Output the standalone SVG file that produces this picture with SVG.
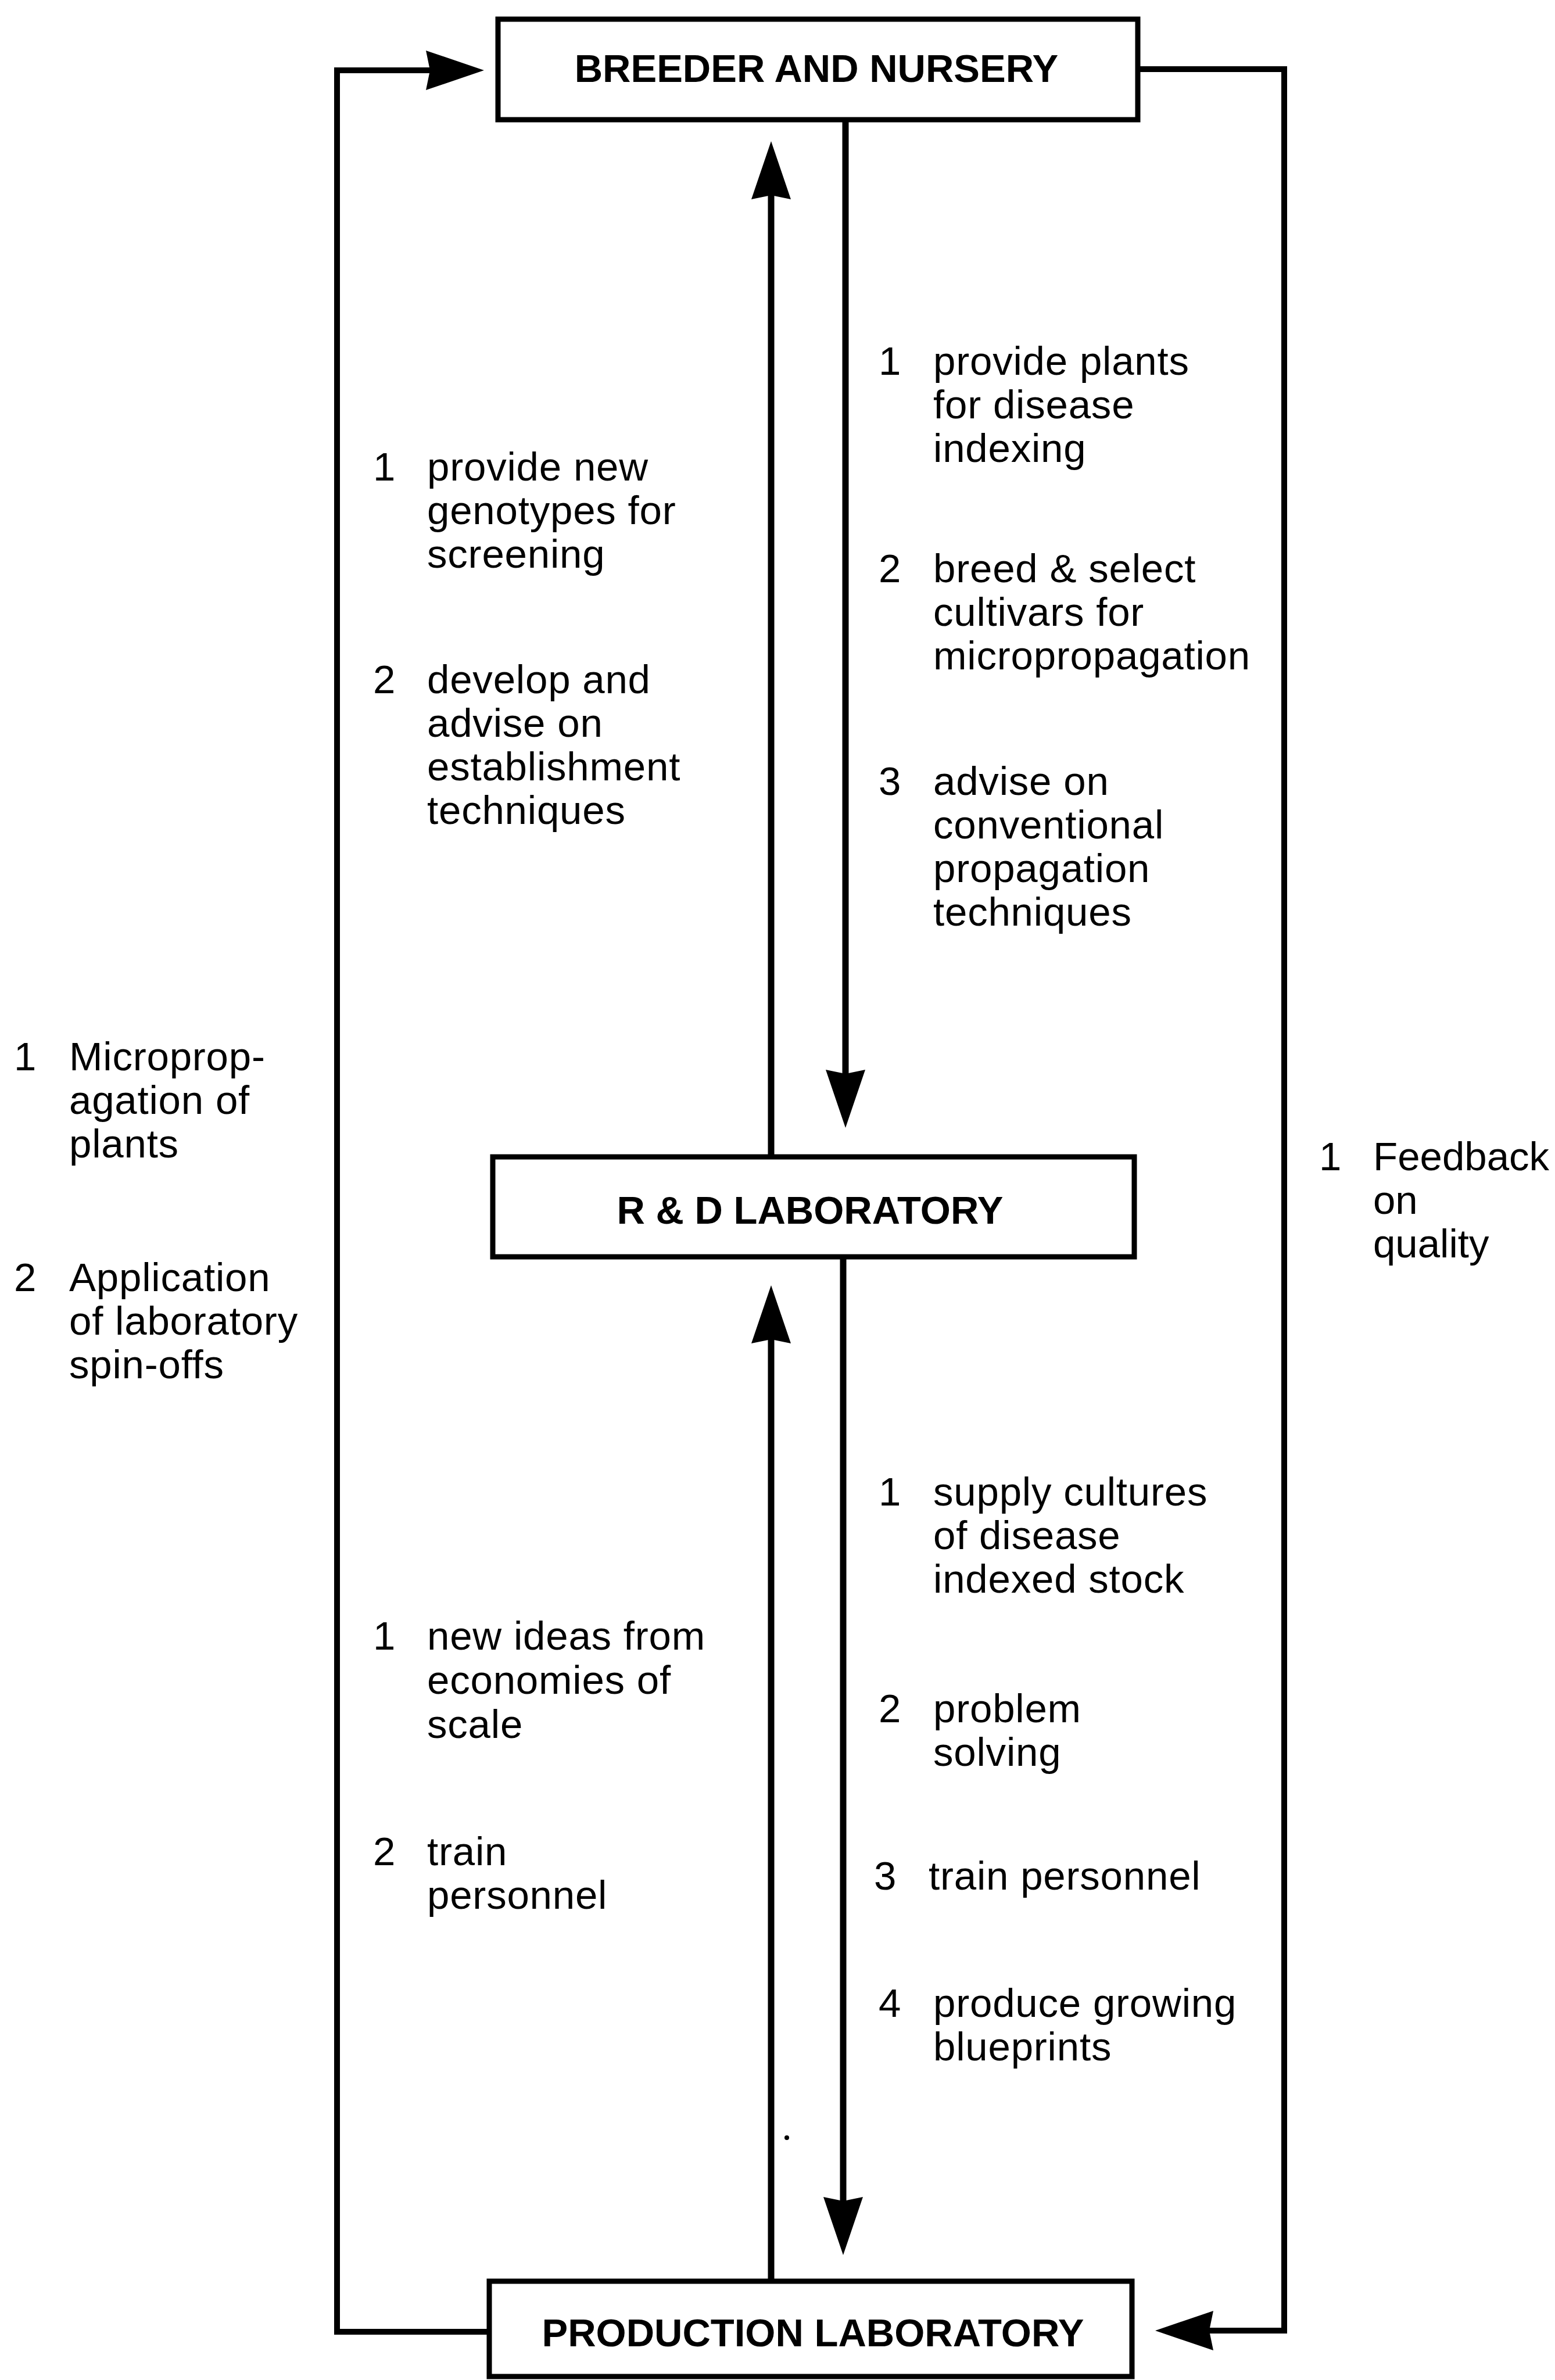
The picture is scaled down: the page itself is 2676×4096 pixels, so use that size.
<svg xmlns="http://www.w3.org/2000/svg" width="2676" height="4096" viewBox="0 0 2676 4096">
<style>
.box{fill:#fff;stroke:#000;stroke-width:9}
.title{font-family:"Liberation Sans",Arial,sans-serif;font-weight:bold;font-size:67px;fill:#000;text-anchor:middle}
.t{font-family:"Liberation Sans",Arial,sans-serif;font-size:69px;fill:#000;letter-spacing:0.8px}
#labels-far-right .t{letter-spacing:0}
.ln{fill:none;stroke:#000;stroke-width:11;stroke-linejoin:miter}
.loop{fill:none;stroke:#000;stroke-width:10;stroke-linejoin:miter}
</style>
<defs>
<marker id="ah" markerUnits="userSpaceOnUse" viewBox="0 0 100 70" markerWidth="100" markerHeight="70" refX="7" refY="35" orient="auto" overflow="visible">
<path d="M0,1 L100,35 L0,69 L7,35 Z" fill="#000"/>
</marker>
</defs>
<rect width="2676" height="4096" fill="#fff"/>
<g id="connectors">
<line class="ln" x1="1327" y1="1991" x2="1327" y2="336" marker-end="url(#ah)"/>
<line class="ln" x1="1455" y1="206" x2="1455" y2="1848" marker-end="url(#ah)"/>
<line class="ln" x1="1327" y1="3926" x2="1327" y2="2305" marker-end="url(#ah)"/>
<line class="ln" x1="1451" y1="2163" x2="1451" y2="3788" marker-end="url(#ah)"/>
<path class="loop" d="M842,4013 H580 V121 H740" marker-end="url(#ah)"/>
<path class="loop" d="M1958,119 H2210 V4011 H2081" marker-end="url(#ah)"/>
<circle cx="1354" cy="3679" r="4" fill="#000"/>
</g>
<g id="breeder">
<rect class="box" x="857" y="33" width="1101" height="173"/>
<text class="title" x="1405" y="141">BREEDER AND NURSERY</text>
</g>
<g id="rd">
<rect class="box" x="848" y="1991" width="1104" height="172"/>
<text class="title" x="1394" y="2106">R &amp; D LABORATORY</text>
</g>
<g id="production">
<rect class="box" x="842" y="3926" width="1106" height="164"/>
<text class="title" x="1399" y="4038">PRODUCTION LABORATORY</text>
</g>
<g id="labels-top-left">
<text class="t" x="642" y="827">1</text>
<text class="t" x="735" y="827">provide new</text>
<text class="t" x="735" y="902">genotypes for</text>
<text class="t" x="735" y="977">screening</text>
<text class="t" x="642" y="1193">2</text>
<text class="t" x="735" y="1193">develop and</text>
<text class="t" x="735" y="1268">advise on</text>
<text class="t" x="735" y="1343">establishment</text>
<text class="t" x="735" y="1418">techniques</text>
</g>
<g id="labels-top-right">
<text class="t" x="1512" y="645">1</text>
<text class="t" x="1606" y="645">provide plants</text>
<text class="t" x="1606" y="720">for disease</text>
<text class="t" x="1606" y="795">indexing</text>
<text class="t" x="1512" y="1002">2</text>
<text class="t" x="1606" y="1002">breed &amp; select</text>
<text class="t" x="1606" y="1077">cultivars for</text>
<text class="t" x="1606" y="1152">micropropagation</text>
<text class="t" x="1512" y="1368">3</text>
<text class="t" x="1606" y="1368">advise on</text>
<text class="t" x="1606" y="1443">conventional</text>
<text class="t" x="1606" y="1518">propagation</text>
<text class="t" x="1606" y="1593">techniques</text>
</g>
<g id="labels-far-left">
<text class="t" x="24" y="1842">1</text>
<text class="t" x="119" y="1842">Microprop-</text>
<text class="t" x="119" y="1917">agation of</text>
<text class="t" x="119" y="1992">plants</text>
<text class="t" x="24" y="2222">2</text>
<text class="t" x="119" y="2222">Application</text>
<text class="t" x="119" y="2297">of laboratory</text>
<text class="t" x="119" y="2372">spin-offs</text>
</g>
<g id="labels-far-right">
<text class="t" x="2270" y="2014">1</text>
<text class="t" x="2363" y="2014">Feedback</text>
<text class="t" x="2363" y="2089">on</text>
<text class="t" x="2363" y="2164">quality</text>
</g>
<g id="labels-bottom-left">
<text class="t" x="642" y="2839">1</text>
<text class="t" x="735" y="2839">new ideas from</text>
<text class="t" x="735" y="2915">economies of</text>
<text class="t" x="735" y="2991">scale</text>
<text class="t" x="642" y="3210">2</text>
<text class="t" x="735" y="3210">train</text>
<text class="t" x="735" y="3285">personnel</text>
</g>
<g id="labels-bottom-right">
<text class="t" x="1512" y="2591">1</text>
<text class="t" x="1606" y="2591">supply cultures</text>
<text class="t" x="1606" y="2666">of disease</text>
<text class="t" x="1606" y="2741">indexed stock</text>
<text class="t" x="1512" y="2964">2</text>
<text class="t" x="1606" y="2964">problem</text>
<text class="t" x="1606" y="3039">solving</text>
<text class="t" x="1504" y="3252">3</text>
<text class="t" x="1598" y="3252">train personnel</text>
<text class="t" x="1512" y="3471">4</text>
<text class="t" x="1606" y="3471">produce growing</text>
<text class="t" x="1606" y="3546">blueprints</text>
</g>
</svg>
